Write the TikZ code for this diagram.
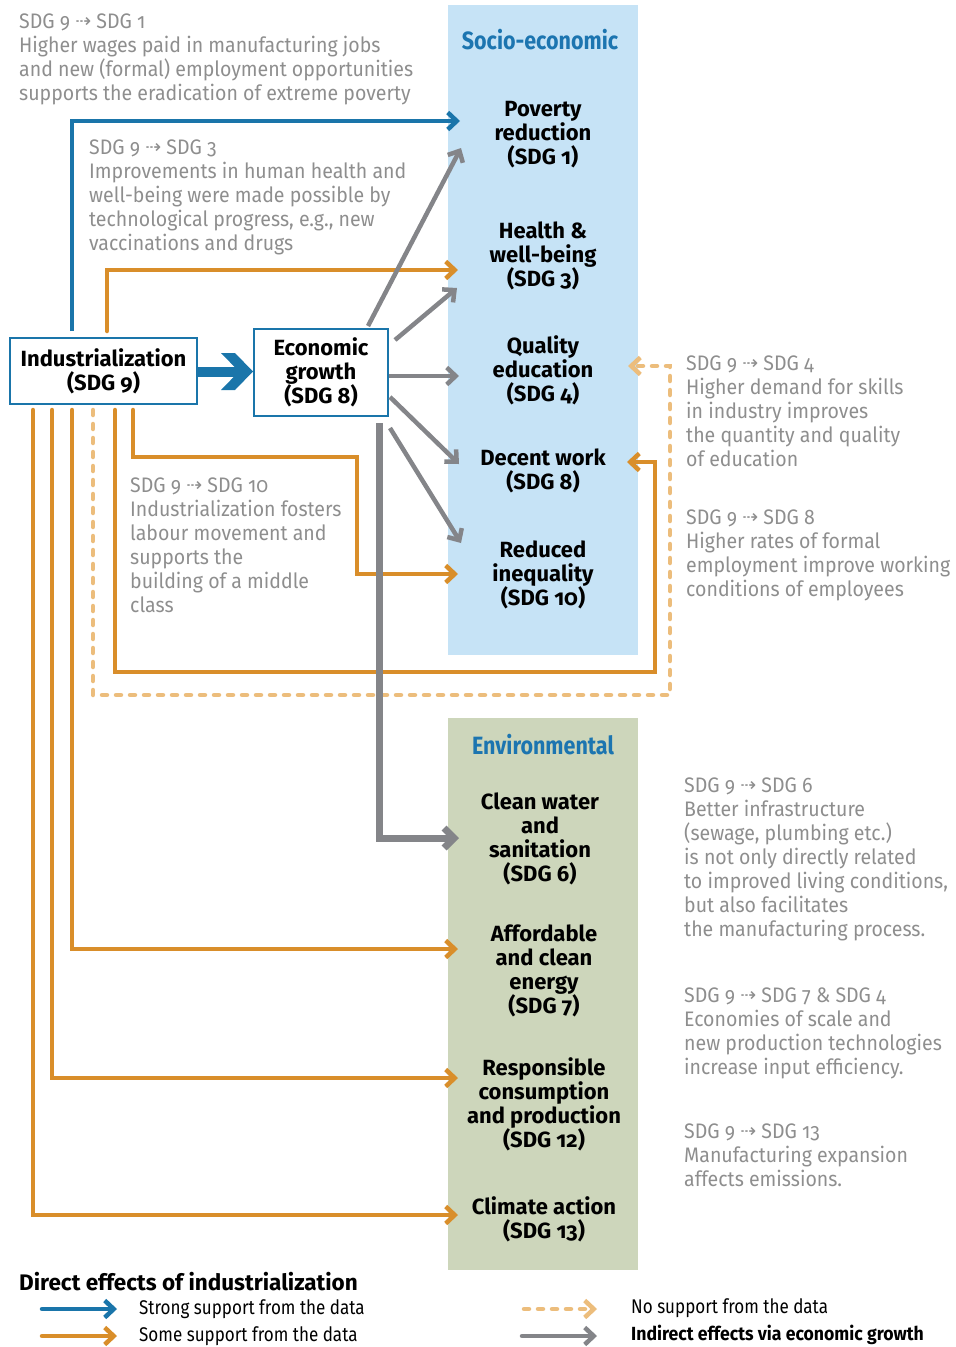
\documentclass[tikz,border=0pt]{standalone}
\usepackage{fontspec}
\setmainfont[FakeStretch=0.93,Numbers=OldStyle]{Fira Sans}
\newfontfamily\widefont[Numbers=OldStyle]{Fira Sans}
\newfontfamily\narrowfont[FakeStretch=0.86,Numbers=OldStyle]{Fira Sans}
\newfontfamily\arrfont{DejaVu Sans}
\usetikzlibrary{arrows.meta}
\definecolor{blueC}{HTML}{1A75AA}
\definecolor{orangeC}{HTML}{D98E2A}
\definecolor{lorange}{HTML}{ECBD7C}
\definecolor{grayC}{HTML}{848589}
\definecolor{annC}{HTML}{8E8E8E}
\definecolor{socioC}{HTML}{C6E3F6}
\definecolor{envC}{HTML}{CDD6BB}
\definecolor{titleC}{HTML}{1C75B0}
\newcommand{\dar}{{\arrfont\fontsize{19}{19}\selectfont\raisebox{1pt}{⇢}}}
\begin{document}
\begin{tikzpicture}[x=1pt,y=-1pt,
  ann/.style={anchor=north west, inner sep=0pt, align=left, text=annC, font=\fontsize{21}{24}\selectfont},
  tgt/.style={align=center, inner sep=0pt, font=\widefont\bfseries\fontsize{22}{24}\selectfont},
  srcbox/.style={draw=blueC, line width=2pt, fill=white, align=center, inner sep=0pt, font=\widefont\bfseries\fontsize{22}{24}\selectfont},
  ttl/.style={inner sep=0pt, text=titleC, font=\narrowfont\bfseries\fontsize{25}{28}\selectfont},
  tipA/.style={-{Straight Barb[length=9pt,width=17pt]}},
  strong/.style={blueC, line width=4.5pt, tipA},
  some/.style={orangeC, line width=4.5pt, line cap=round, tipA},
  nosup/.style={lorange, line width=4.5pt, line cap=round, dash pattern=on 5pt off 9pt, tipA},
  indir/.style={grayC, line width=4.5pt, tipA},
  leg/.style={anchor=west, inner sep=0pt, font=\narrowfont\fontsize{19.8}{22}\selectfont}
]
\useasboundingbox (0,0) rectangle (956,1347);

% background panels
\fill[socioC] (448,5) rectangle (638,655);
\fill[envC] (448,718) rectangle (638,1270);
\node[ttl] (tsoc) at (540,40) {Socio-economic};
\node[ttl] (tenv) at (543,745) {Environmental};

% target nodes
\node[tgt] (p1) at (543,135) {Poverty\\reduction\\(SDG 1)};
\node[tgt] (p3) at (543,256) {Health \&\\well-being\\(SDG 3)};
\node[tgt] (p4) at (543,370) {Quality\\education\\(SDG 4)};
\node[tgt] (p8) at (543,471) {Decent work\\(SDG 8)};
\node[tgt] (p10) at (543,575) {Reduced\\inequality\\(SDG 10)};
\node[tgt] (e6) at (540,839) {Clean water\\and\\sanitation\\(SDG 6)};
\node[tgt] (e7) at (544,971) {Affordable\\and clean\\energy\\(SDG 7)};
\node[tgt] (e12) at (544,1104) {Responsible\\consumption\\and production\\(SDG 12)};
\node[tgt] (e13) at (544,1219) {Climate action\\(SDG 13)};

% source boxes
\node[srcbox, minimum width=187pt, minimum height=66pt] (ind) at (103.5,371) {Industrialization\\(SDG 9)};
\node[srcbox, minimum width=134pt, minimum height=87pt] (econ) at (321,372.5) {Economic\\growth\\(SDG 8)};

% coordinates
\coordinate (a1) at (460,121);
\coordinate (a3) at (458,270);
\coordinate (a10) at (458,574);
\coordinate (a7) at (458,949);
\coordinate (a12) at (458,1078);
\coordinate (a13) at (458,1215);
\coordinate (a4) at (628,366);
\coordinate (a8) at (627,462);
\coordinate (a6) at (459,838);
\coordinate (bigtip) at (econ.west |- 0,371.5);

% big arrow
\draw[blueC, line width=10pt] (ind.east |- bigtip) -- ([xshift=-14pt]bigtip);
\begin{scope}[shift={(bigtip)}]
  \fill[blueC] (-32,-18.5) -- (-18,-18.5) -- (0,0) -- (-18,18.5) -- (-32,18.5) -- (-14,0) -- cycle;
\end{scope}

% direct effects
\draw[strong] (72,331) |- (a1);
\draw[some] (107,331) |- (a3);
\draw[some] (133,410) |- (357,457) |- (a10);
\draw[some] (115,410) |- (655,672) |- (a8);
\draw[nosup] (93,410) |- (670,695) |- (a4);
\draw[some] (72,410) |- (a7);
\draw[some] (52,410) |- (a12);
\draw[some] (33,410) |- (a13);

% indirect effects
\draw[grayC, line width=7pt, -{Straight Barb[length=10pt,width=20pt]}] (379,423) |- (a6);
\draw[indir] (368,326) -- (461,148);
\draw[indir] (395,340) -- (457,288);
\draw[indir] (389,376) -- (459,376);
\draw[indir] (390,397) -- (459,464);
\draw[indir] (390,428) -- (461,543);

% annotations
\node[ann] (n1) at (19,14) {SDG 9 \dar{} SDG 1\\Higher wages paid in manufacturing jobs\\and new (formal) employment opportunities\\supports the eradication of extreme poverty};
\node[ann] (n3) at (89,140) {SDG 9 \dar{} SDG 3\\Improvements in human health and\\well-being were made possible by\\technological progress, e.g., new\\vaccinations and drugs};
\node[ann] (n10) at (130,478) {SDG 9 \dar{} SDG 10\\Industrialization fosters\\labour movement and\\supports the\\building of a middle\\class};
\node[ann] (n4) at (686,356) {SDG 9 \dar{} SDG 4\\Higher demand for skills\\in industry improves\\the quantity and quality\\of education};
\node[ann] (n8) at (686,510) {SDG 9 \dar{} SDG 8\\Higher rates of formal\\employment improve working\\conditions of employees};
\node[ann] (n6) at (684,778) {SDG 9 \dar{} SDG 6\\Better infrastructure\\(sewage, plumbing etc.)\\is not only directly related\\to improved living conditions,\\but also facilitates\\the manufacturing process.};
\node[ann] (n7) at (684,988) {SDG 9 \dar{} SDG 7 \& SDG 4\\Economies of scale and\\new production technologies\\increase input efficiency.};
\node[ann] (n13) at (684,1124) {SDG 9 \dar{} SDG 13\\Manufacturing expansion\\affects emissions.};

% legend
\node[anchor=west, inner sep=0pt, font=\widefont\bfseries\fontsize{22.5}{24}\selectfont] (lt) at (19,1282) {Direct effects of industrialization};
\coordinate (l1a) at (42,1309); \coordinate (l1b) at (117,1309);
\coordinate (l2a) at (42,1336); \coordinate (l2b) at (117,1336);
\coordinate (l3a) at (524,1309); \coordinate (l3b) at (597,1309);
\coordinate (l4a) at (522,1336); \coordinate (l4b) at (597,1336);
\draw[strong, line cap=round] (l1a) -- (l1b);
\draw[some] (l2a) -- (l2b);
\draw[nosup] (l3a) -- (l3b);
\draw[indir, line cap=round] (l4a) -- (l4b);
\node[leg] (lg1) at (139,1309) {Strong support from the data};
\node[leg] (lg2) at (139,1336) {Some support from the data};
\node[leg] (lg3) at (631,1308) {No support from the data};
\node[leg, font=\bfseries\fontsize{19}{22}\selectfont] (lg4) at (631,1335) {Indirect effects via economic growth};
\end{tikzpicture}
\end{document}
